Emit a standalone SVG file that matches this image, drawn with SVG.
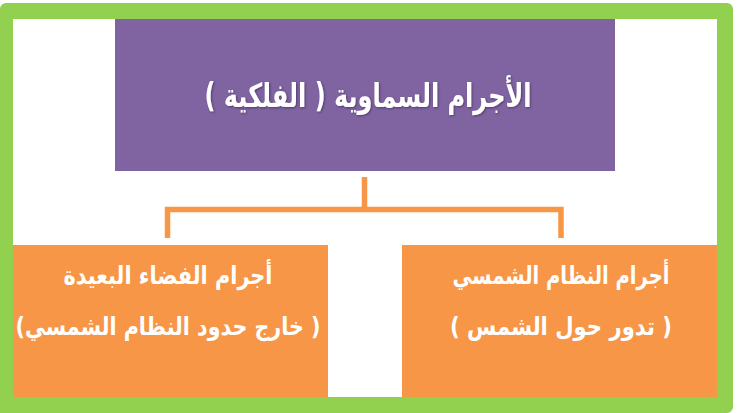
<svg xmlns="http://www.w3.org/2000/svg" width="741" height="413" viewBox="0 0 741 413">
  <defs>
    <style>
      .frame { fill: #92D050; fill-rule: evenodd; }
      .top { fill: #8064A2; }
      .box { fill: #F79646; }
      .conn { fill: none; stroke: #F79646; stroke-width: 5.5; stroke-linejoin: miter; }
      .t { fill: #FFFFFF; font-family: "DejaVu Sans", sans-serif; font-weight: bold; text-anchor: middle; direction: rtl; }
      .title { font-size: 33px; filter: url(#sh); }
      .lbl { font-size: 25px; }
    </style>
    <filter id="sh" x="-10%" y="-30%" width="120%" height="160%">
      <feDropShadow dx="1" dy="1" stdDeviation="0.8" flood-color="#3a2a50" flood-opacity="0.7"/>
    </filter>
  </defs>
  <rect width="741" height="413" fill="#FFFFFF"/>
  <path class="frame" d="M6,3 H727 A6,6 0 0 1 733,9 V407 A6,6 0 0 1 727,413 H0 V9 A6,6 0 0 1 6,3 Z M13,19 V397 H717 V19 Z"/>
  <g id="connectors">
    <path class="conn" d="M364.5,177 V209.5"/>
    <path class="conn" d="M167.5,238 V209.5 H561 V238"/>
  </g>
  <g id="node-root">
    <rect class="top" x="115" y="19" width="500" height="152"/>
    <text class="t title" x="368" y="107" textLength="327" lengthAdjust="spacingAndGlyphs">الأجرام السماوية ( الفلكية )</text>
  </g>
  <g id="node-far">
    <rect class="box" x="13" y="245" width="315" height="152"/>
    <text class="t lbl" x="168" y="284" textLength="209" lengthAdjust="spacingAndGlyphs">أجرام الفضاء البعيدة</text>
    <text class="t lbl" x="168" y="335" textLength="305" lengthAdjust="spacingAndGlyphs">( خارج حدود النظام الشمسي)</text>
  </g>
  <g id="node-solar">
    <rect class="box" x="402" y="245" width="315" height="152"/>
    <text class="t lbl" x="561" y="284" textLength="217" lengthAdjust="spacingAndGlyphs">أجرام النظام الشمسي</text>
    <text class="t lbl" x="561" y="335" textLength="222" lengthAdjust="spacingAndGlyphs">( تدور حول الشمس )</text>
  </g>
</svg>
